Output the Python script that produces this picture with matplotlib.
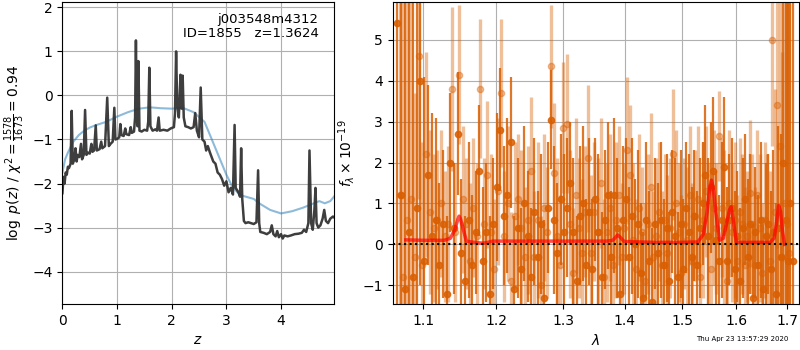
import numpy as np
import matplotlib
matplotlib.use('Agg')
import matplotlib.pyplot as plt
from matplotlib.ticker import NullLocator

# --- left panel: log p(z) ---
z = [0.00, 0.02, 0.04, 0.06, 0.08, 0.10, 0.12, 0.15, 0.17, 0.19, 0.22, 0.24, 0.26, 0.28, 0.31,
     0.34, 0.36, 0.39, 0.415, 0.44, 0.47, 0.50, 0.53, 0.55, 0.58, 0.61, 0.63, 0.68, 0.71, 0.73,
     0.78, 0.82, 0.85, 0.88, 0.92, 0.95, 0.97, 1.01, 1.04, 1.06, 1.08, 1.12, 1.15, 1.17, 1.22,
     1.25, 1.27, 1.31, 1.33, 1.345, 1.36, 1.375, 1.39, 1.41, 1.45, 1.50, 1.55, 1.57, 1.59, 1.61,
     1.65, 1.70, 1.73, 1.76, 1.78, 1.85, 1.92, 1.98, 2.04, 2.06, 2.08, 2.10, 2.13, 2.16, 2.18,
     2.20, 2.22, 2.25, 2.30, 2.35, 2.40, 2.43, 2.46, 2.50, 2.53, 2.56, 2.60, 2.63, 2.66,
     2.70, 2.73, 2.76, 2.80, 2.84, 2.88, 2.92, 2.96, 3.00, 3.04, 3.08, 3.12, 3.15, 3.17,
     3.22, 3.25, 3.27, 3.29, 3.32, 3.35, 3.40, 3.45, 3.50, 3.55, 3.58, 3.60, 3.62, 3.68,
     3.74, 3.80, 3.83, 3.86, 3.90, 3.93, 3.96, 4.00, 4.03, 4.06, 4.12, 4.18, 4.25, 4.32,
     4.38, 4.42, 4.46, 4.50, 4.52, 4.55, 4.58, 4.61, 4.63, 4.65, 4.68, 4.72, 4.76, 4.79,
     4.82, 4.86, 4.90, 4.95, 5.00]
logpz = [-2.22, -1.85, -2.00, -1.75, -1.80, -1.62, -1.65, -1.55, -0.35, -1.55, -1.45, -1.20, -1.50, -1.35, -1.40,
         -1.10, -1.45, -1.35, -0.33, -1.35, -1.30, -1.32, -1.10, -1.28, -1.25, -0.68, -1.25, -1.22, -1.05, -1.20,
         -1.15, -0.05, -1.15, -1.10, -1.05, -0.28, -1.00, -0.98, -0.95, -0.65, -0.90, -0.92, -0.75, -0.88, -0.90,
         -0.72, -0.85, -0.82, -0.50, 1.25, -0.40, -0.70, 0.78, -0.80, -0.82, -0.78, -0.80, -0.60, 0.63, -0.70,
         -0.80, -0.77, -0.80, -0.50, -0.80, -0.78, -0.80, -0.75, -0.72, -0.40, 1.00, -0.20, -0.50, 0.47, -0.30,
         0.45, -0.50, -0.70, -0.72, -0.75, -0.72, -0.40, -0.80, -0.95, 0.18, -1.00, -1.05, -1.25, -1.15,
         -1.30, -1.40, -1.50, -1.55, -1.75, -1.80, -1.90, -2.05, -1.95, -2.20, -2.10, -2.25, -0.67, -2.10,
         -2.20, -2.30, -1.20, -2.35, -2.85, -2.90, -2.88, -2.90, -2.92, -2.88, -1.70, -2.90, -3.10, -3.12,
         -3.15, -3.10, -2.95, -3.15, -3.20, -3.08, -3.22, -3.15, -3.25, -3.18, -3.20, -3.18, -3.15, -3.14,
         -3.12, -3.05, -3.10, -2.90, -1.25, -2.90, -3.05, -2.60, -2.10, -2.90, -3.00, -2.95, -2.80, -2.60,
         -2.85, -2.90, -2.80, -2.75, -2.80]

z_prior = [0.0, 0.05, 0.1, 0.2, 0.3, 0.4, 0.5, 0.6, 0.8, 1.0, 1.2, 1.4, 1.6, 1.8, 2.0, 2.2,
           2.4, 2.6, 2.8, 2.9, 3.0, 3.1, 3.2, 3.3, 3.5, 3.6, 3.8, 4.0, 4.2, 4.4, 4.6, 4.7,
           4.8, 4.9, 5.0]
logp_prior = [-1.75, -1.45, -1.30, -1.05, -0.90, -0.80, -0.73, -0.68, -0.60, -0.48, -0.38, -0.30,
              -0.27, -0.29, -0.30, -0.28, -0.38, -0.60, -1.20, -1.50, -1.80, -2.05, -2.20, -2.28,
              -2.35, -2.45, -2.60, -2.68, -2.63, -2.55, -2.45, -2.40, -2.45, -2.40, -2.25]

# --- right panel: spectrum (two beams) + model ---
wave_a = np.linspace(1.066, 1.712, 130)
flux_a = [5.4, 1.2, -1.1, 0.3, -0.8, 0.9, 4.0, -0.4, 1.7, 0.2,
          0.6, -0.5, 0.5, -1.2, 2.0, 0.4, 2.7, -0.2, -0.9, 0.6,
          -0.5, 0.3, 1.8, -0.4, 0.3, -1.2, 0.5, 1.4, 2.8, 0.7,
          1.2, 2.5, -1.1, 0.4, -0.6, 1.0, 0.2, -0.8, 0.8, -0.3,
          0.5, -1.3, 0.9, 3.05, 0.6, -0.2, 1.1, 0.3, 0.9, 1.5,
          0.3, -0.9, 0.7, 1.0, -0.5, 0.8, -0.6, 1.1, 0.3, -0.8,
          0.6, 1.2, -0.3, 1.2, 0.4, -1.2, 0.6, 1.1, -0.3, 0.7,
          0.0, 0.5, -0.7, -1.3, 0.6, -0.4, -1.4, 0.5, -0.2, 0.6,
          -0.5, 0.4, -0.9, 0.8, 0.2, -0.8, 0.5, -0.6, 0.9, 0.3,
          -0.3, 0.7, -0.5, 0.4, 1.0, 1.7, 0.2, 1.4, 1.8, 0.1,
          -0.4, 0.6, 1.9, -0.4, 0.6, 0.9, -0.6, 0.2, -0.9, 0.4,
          1.1, -0.3, 0.5, -1.3, 0.3, -0.5, 0.6, -1.1, 0.2, 0.5,
          -0.6, 0.3, -1.2, 0.4, -0.3, 2.0, 0.6, -0.4, 1.0, -0.4]
err_a = [9.0, 9.0, 8.0, 8.0, 7.0, 6.0, 5.0, 4.5, 2.2, 3.0,
         2.5, 2.0, 1.8, 1.9, 1.7, 1.6, 1.5, 1.8, 1.6, 1.9,
         1.7, 1.5, 1.6, 1.8, 1.7, 1.9, 1.6, 1.8, 1.5, 1.7,
         1.9, 1.6, 1.8, 1.7, 1.5, 1.9, 1.6, 1.7, 1.8, 1.6,
         1.7, 1.9, 1.6, 1.2, 1.8, 1.7, 1.6, 1.9, 1.7, 1.5,
         1.8, 1.6, 1.7, 1.9, 1.6, 1.8, 1.7, 1.5, 1.9, 1.6,
         1.7, 1.8, 1.6, 1.9, 1.7, 1.6, 1.8, 1.5, 1.7, 1.9,
         1.6, 1.8, 1.7, 1.6, 1.9, 1.7, 1.8, 1.6, 1.7, 1.9,
         1.6, 1.8, 1.7, 1.5, 1.9, 1.6, 1.8, 1.7, 1.6, 1.9,
         1.7, 1.6, 1.8, 1.7, 1.5, 1.7, 1.9, 1.6, 1.8, 1.7,
         1.6, 1.9, 1.7, 1.8, 1.6, 1.7, 1.9, 1.6, 1.8, 1.7,
         1.6, 1.9, 1.7, 1.8, 1.6, 1.7, 1.9, 1.6, 1.8, 1.7,
         1.9, 2.0, 2.2, 2.5, 3.0, 4.0, 6.0, 8.0, 9.0, 9.0]

wave_b = np.linspace(1.069, 1.705, 130)
flux_b = [1.2, -0.8, 0.6, 1.1, -0.3, 4.6, -0.5, 2.2, 0.8, 0.4,
          0.6, 1.0, 0.2, 0.5, 3.8, 0.3, 4.15, 1.1, 0.5, -0.4,
          0.9, 0.2, 3.8, 0.5, 1.7, 0.3, -0.6, 1.3, 3.7, 0.2,
          1.0, -0.9, 0.7, 1.1, 0.4, -0.3, 0.6, 1.8, -0.3, 0.6,
          -1.0, 0.9, 0.3, 4.35, 1.75, 0.2, -0.5, 2.85, 2.95, 0.5,
          -0.7, 1.2, 0.4, -0.2, 0.8, 2.1, -0.2, 0.8, 0.3, 1.5,
          -0.8, 0.3, 0.9, -0.5, 0.6, 1.2, -0.3, 0.4, 2.3, 1.7,
          0.1, -0.6, 0.9, 0.3, -0.9, 0.5, 1.4, -0.3, 0.2, 0.8,
          -0.5, 0.6, -0.2, 0.4, 2.2, 1.0, 0.3, -0.7, 0.5, 0.1,
          1.2, -0.4, 0.7, 1.1, -0.8, 0.6, 1.3, 0.2, -0.6, 0.9,
          0.4, 2.65, 0.9, 0.4, -0.9, 1.0, 0.3, 0.6, -0.4, 0.8,
          0.5, -0.5, 0.2, 1.25, 0.5, -0.5, 1.2, 0.4, -0.7, 0.6,
          0.2, -0.4, 5.0, 0.8, 3.4, 2.4, -0.3, 1.0, 0.5, -0.2]
err_b = [8.0, 7.0, 6.0, 5.0, 4.0, 3.5, 3.0, 2.5, 2.0, 1.8,
         1.7, 1.8, 1.6, 1.9, 2.0, 1.7, 1.7, 1.8, 1.6, 1.9,
         1.7, 1.8, 1.7, 1.6, 1.8, 1.9, 1.7, 1.8, 1.8, 1.6,
         1.9, 1.7, 1.8, 1.6, 1.9, 1.7, 1.8, 1.8, 1.6, 1.9,
         1.7, 1.8, 1.6, 1.5, 1.7, 1.9, 1.7, 1.6, 1.7, 1.8,
         1.6, 1.9, 1.7, 1.8, 1.6, 1.8, 1.9, 1.7, 1.8, 1.6,
         1.9, 1.7, 1.8, 1.6, 1.9, 1.7, 1.8, 1.6, 1.8, 1.7,
         1.9, 1.7, 1.8, 1.6, 1.9, 1.7, 1.8, 1.6, 1.9, 1.7,
         1.8, 1.6, 1.9, 1.7, 1.6, 1.8, 1.7, 1.9, 1.6, 1.8,
         1.7, 1.9, 1.6, 1.8, 1.7, 1.9, 1.6, 1.8, 1.7, 1.9,
         1.6, 1.1, 1.7, 1.9, 1.6, 1.8, 1.7, 1.9, 1.6, 1.8,
         1.7, 1.9, 1.6, 1.8, 1.7, 1.9, 1.6, 1.8, 1.7, 1.9,
         2.0, 2.2, 2.6, 3.0, 3.5, 4.0, 5.0, 6.0, 7.0, 8.0]

wave_model = [1.077, 1.100, 1.128, 1.136, 1.142, 1.146, 1.148, 1.150, 1.154, 1.158, 1.165,
              1.175, 1.181, 1.188, 1.195, 1.25, 1.30, 1.37, 1.380, 1.385, 1.388, 1.392,
              1.398, 1.40, 1.45, 1.50, 1.528, 1.538, 1.545, 1.550, 1.553, 1.556, 1.561,
              1.568, 1.575, 1.582, 1.587, 1.590, 1.594, 1.600, 1.62, 1.666, 1.674, 1.679,
              1.683, 1.687, 1.691, 1.695]
flux_model = [0.11, 0.10, 0.10, 0.15, 0.35, 0.60, 0.69, 0.62, 0.35, 0.08, 0.06,
              0.04, 0.03, 0.05, 0.08, 0.08, 0.08, 0.08, 0.10, 0.18, 0.23, 0.18,
              0.08, 0.07, 0.05, 0.05, 0.06, 0.25, 0.80, 1.40, 1.57, 1.40, 0.80,
              0.10, 0.15, 0.55, 0.85, 0.92, 0.60, 0.05, 0.05, 0.05, 0.15, 0.55,
              0.95, 0.80, 0.30, 0.00]

timestamp = 'Thu Apr 23 13:57:29 2020'

fig, axes = plt.subplots(1, 2, figsize=(8, 3.5), dpi=100,
                         gridspec_kw={'width_ratios': [2, 3]})
fig.subplots_adjust(left=0.078, right=0.999, bottom=0.131, top=0.994, wspace=0.174)

ax = axes[0]
ax.plot(z_prior, logp_prior, color='tab:blue', alpha=0.5, lw=1.5)
ax.plot(z, logpz, color='0.2', alpha=0.95, lw=1.8)
ax.set_xlim(0, 4.96)
ax.set_ylim(-4.74, 2.12)
ax.set_xlabel(r'$z$')
ax.set_ylabel(r'$\log\ p(z)$' + ' / ' + r'$\chi^2=\frac{1578}{1673}=0.94$')
ax.grid()
ax.text(0.945, 0.965, 'j003548m4312\nID=1855   z=1.3624', ha='right', va='top',
        fontsize=9.5, transform=ax.transAxes, linespacing=1.1)

ax = axes[1]
ax.errorbar(wave_a, flux_a, err_a, marker='o', ms=4.5, linestyle='None',
            color='#d95f02', alpha=0.85, elinewidth=1.6)
ax.errorbar(wave_b, flux_b, err_b, marker='o', ms=4.5, linestyle='None',
            color='#d95f02', alpha=0.4, elinewidth=2.4)
ax.plot(wave_model, flux_model, color='r', alpha=0.7, lw=2.5, zorder=5)
ax.axhline(0, color='k', linestyle=':', lw=1.5, zorder=6)
ax.set_xscale('log')
ax.set_xlim(1.060, 1.725)
ax.set_ylim(-1.46, 5.92)
ticks = [1.1, 1.2, 1.3, 1.4, 1.5, 1.6, 1.7]
ax.set_xticks(ticks, ['%.1f' % t for t in ticks])
ax.xaxis.set_minor_locator(NullLocator())
ax.set_xlabel(r'$\lambda$')
ax.set_ylabel(r'$f_\lambda\times10^{-19}$')
ax.grid()

fig.text(0.985, 0.031, timestamp, ha='right', va='center', fontsize=5)

fig.savefig('out.png', dpi=100)
